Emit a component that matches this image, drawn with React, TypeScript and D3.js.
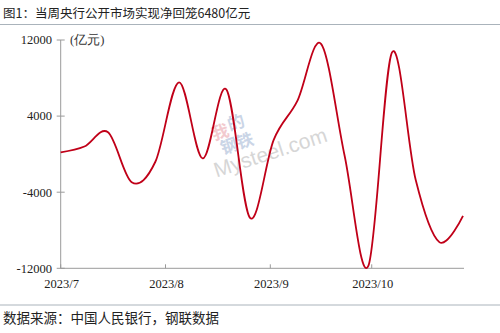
import React from "react";
import * as d3 from "d3";

const dates = [
  "2023-07-01", "2023-07-08", "2023-07-15", "2023-07-22", "2023-07-29",
  "2023-08-05", "2023-08-12", "2023-08-19", "2023-08-26", "2023-09-02",
  "2023-09-09", "2023-09-16", "2023-09-23", "2023-09-30", "2023-10-07",
  "2023-10-14", "2023-10-21", "2023-10-28",
];
const netInjection = [
  190, 800, 2300, -2950, -800, 7550, -450, 6800, -6700, 1500,
  5600, 11600, -200, -11750, 10700, -2700, -9250, -6480,
];
const yTicks = [12000, 4000, -4000, -12000];
const monthTicks = ["2023-07-01", "2023-08-01", "2023-09-01", "2023-10-01"];
const monthLabels = ["2023/7", "2023/8", "2023/9", "2023/10"];

const title = "图1：当周央行公开市场实现净回笼6480亿元";
const source = "数据来源：中国人民银行，钢联数据";
const unit = "(亿元)";

const W = 500;
const H = 333;
const parse = d3.timeParse("%Y-%m-%d");

export default function App() {
  const left = 60.7;
  const right = 463;
  const top = 40;
  const bottom = 268.3;

  const x = d3
    .scaleTime()
    .domain([parse(dates[0])!, parse(dates[dates.length - 1])!])
    .range([left, right]);
  const y = d3.scaleLinear().domain([-12000, 12000]).range([bottom, top]);

  const pts = dates.map((d, i) => [x(parse(d)!), y(netInjection[i])] as [number, number]);
  const line = d3.line().curve(d3.curveCardinal.tension(0))(pts) || "";

  const serif = "'Liberation Serif', 'Times New Roman', serif";
  const cjk = "'Noto Sans CJK SC', sans-serif";
  const axisColor = "#9a9a9a";

  return (
    <svg
      width={W}
      height={H}
      viewBox={`0 0 ${W} ${H}`}
      style={{ position: "absolute", left: 0, top: 0, background: "#fff" }}
    >
      <rect x={0} y={0} width={W} height={H} fill="#fff" />
      {/* title */}
      <text x={3} y={17.5} fontFamily={cjk} fontSize={12.5} fill="#222">
        {title}
      </text>
      <line x1={0} x2={W} y1={24.5} y2={24.5} stroke="#aab3bb" strokeWidth={1.2} />

      {/* watermark */}
      <g transform="translate(250,135) rotate(-18)" opacity={0.55}>
        <text x={-36} y={-6} fontFamily={cjk} fontSize={17} fontWeight="bold" fill="#e8a0a8">
          我
        </text>
        <text x={-18} y={-10} fontFamily={cjk} fontSize={17} fontWeight="bold" fill="#9fb3d3">
          的
        </text>
        <text x={-32} y={10} fontFamily={cjk} fontSize={17} fontWeight="bold" fill="#9fb3d3">
          钢铁
        </text>
        <text x={-45} y={30} fontFamily="'Liberation Sans', Arial, sans-serif" fontSize={21} fill="#b5b5b5">
          Mysteel.com
        </text>
      </g>

      {/* y axis */}
      <line x1={left} x2={left} y1={top} y2={bottom} stroke={axisColor} strokeWidth={1} />
      {yTicks.map((t) => (
        <g key={t}>
          <line x1={left - 4} x2={left + 4} y1={y(t)} y2={y(t)} stroke={axisColor} strokeWidth={1} />
          <text
            x={52}
            y={y(t)}
            dy="0.35em"
            textAnchor="end"
            fontFamily={serif}
            fontSize={12.5}
            fill="#222"
          >
            {t}
          </text>
        </g>
      ))}
      <text x={70} y={top} dy="0.35em" fontFamily={serif} fontSize={12.5} fill="#333">
        {unit}
      </text>

      {/* x axis */}
      <line x1={left} x2={464} y1={bottom} y2={bottom} stroke={axisColor} strokeWidth={1} />
      {monthTicks.map((m, i) => {
        const xx = x(parse(m)!);
        return (
          <g key={m}>
            <line x1={xx} x2={xx} y1={bottom} y2={bottom - 4} stroke={axisColor} strokeWidth={1} />
            <text
              x={xx + 1}
              y={288}
              textAnchor="middle"
              fontFamily={serif}
              fontSize={12.5}
              fill="#222"
            >
              {monthLabels[i]}
            </text>
          </g>
        );
      })}

      {/* data line */}
      <path d={line} fill="none" stroke="#c00018" strokeWidth={1.8} strokeLinejoin="round" />

      {/* footer */}
      <line x1={0} x2={W} y1={305} y2={305} stroke="#aab3bb" strokeWidth={1} />
      <text x={3} y={323} fontFamily={cjk} fontSize={13.5} fill="#222">
        {source}
      </text>
    </svg>
  );
}
